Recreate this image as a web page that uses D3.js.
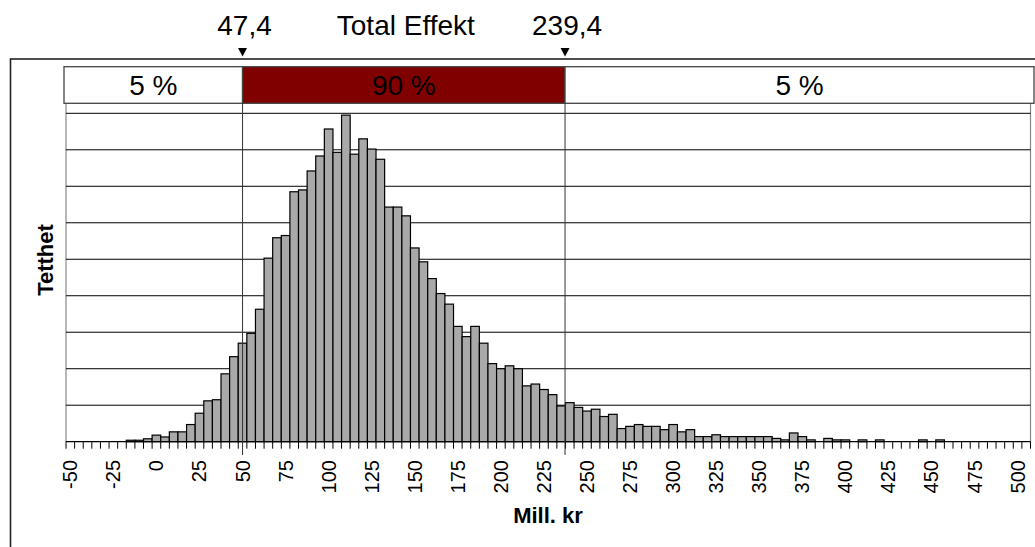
<!DOCTYPE html>
<html>
<head>
<meta charset="utf-8">
<script src="https://cdn.jsdelivr.net/npm/d3@7"></script>
<style>
  html, body { margin: 0; padding: 0; background: #fff; }
  svg { display: block; font-family: "Liberation Sans", Arial, sans-serif; }
</style>
</head>
<body>
<svg id="chart" width="1035" height="547"></svg>
<script>
// ---- data ----
const categories = [-50,-45,-40,-35,-30,-25,-20,-15,-10,-5,0,5,10,15,20,25,30,35,40,45,
  50,55,60,65,70,75,80,85,90,95,100,105,110,115,120,125,130,135,140,145,
  150,155,160,165,170,175,180,185,190,195,200,205,210,215,220,225,230,235,240,245,
  250,255,260,265,270,275,280,285,290,295,300,305,310,315,320,325,330,335,340,345,
  350,355,360,365,370,375,380,385,390,395,400,405,410,415,420,425,430,435,440,445,
  450,455,460,465,470,475,480,485,490,495,500,505];
const density = [0,0,0,0,0,0,0,0.4,0.4,0.8,1.8,1.3,2.7,2.7,4.7,7.8,11.2,11.5,18.6,23.3,
  27.0,29.7,36.3,50.3,55.9,56.5,68.5,69.0,74.2,78.3,85.7,79.3,89.5,78.8,83.0,80.2,77.4,64.3,64.3,61.9,
  53.1,49.3,44.7,40.6,37.7,31.6,28.8,31.6,27.0,21.4,20.0,20.8,20.0,15.3,15.8,14.3,12.9,9.8,10.7,9.4,
  8.4,8.9,6.9,7.5,3.6,4.2,4.7,4.2,4.2,3.3,4.7,2.7,3.3,1.4,1.4,1.9,1.4,1.4,1.4,1.4,
  1.4,1.4,0.9,0.5,2.4,1.4,0.5,0,0.9,0.5,0.5,0,0.5,0,0.5,0,0,0,0,0.5,
  0,0.5,0,0,0,0,0,0,0,0,0,0];
const tickLabels = [-50,-25,0,25,50,75,100,125,150,175,200,225,250,275,300,325,350,375,400,425,450,475,500];
const gridValues = [10,20,30,40,50,60,70,80,90];
const percentiles = [47.4, 239.4];
const percentileLabels = ["47,4", "239,4"];
const bandLabels = ["5 %", "90 %", "5 %"];
const title = "Total Effekt";
const xTitle = "Mill. kr";
const yTitle = "Tetthet";

// ---- layout ----
const svg = d3.select("#chart");
const plot = { left: 66, right: 1030.5, top: 113.3, bottom: 441.7 };
const band = { left: 64, right: 1034, top: 66.7, bottom: 103.3 };

const x = d3.scaleBand().domain(categories).range([plot.left, plot.right]).padding(0);
const y = d3.scaleLinear().domain([0, 90]).range([plot.bottom, plot.top]);
// overlay (percentile) scale used by the band on top
const xo = d3.scaleLinear().domain([-58.9, 518.6]).range([band.left, band.right]);

// outer chart border
svg.append("rect").attr("x", 10.5).attr("y", 59).attr("width", 1100).attr("height", 600)
  .attr("fill", "none").attr("stroke", "#222").attr("stroke-width", 1.6);

// plot area frame (gray)
svg.append("line").attr("x1", plot.left).attr("x2", plot.left).attr("y1", band.bottom).attr("y2", plot.bottom)
  .attr("stroke", "#888").attr("stroke-width", 1.2);
svg.append("line").attr("x1", plot.right).attr("x2", plot.right).attr("y1", band.bottom).attr("y2", plot.bottom)
  .attr("stroke", "#888").attr("stroke-width", 1.2);

// gridlines
svg.append("g").selectAll("line").data(gridValues).join("line")
  .attr("x1", plot.left).attr("x2", plot.right)
  .attr("y1", d => y(d)).attr("y2", d => y(d))
  .attr("stroke", "#000").attr("stroke-width", 1);

// bars
svg.append("g").selectAll("rect").data(categories.map((c, i) => ({ c, v: density[i] })).filter(d => d.v > 0))
  .join("rect")
  .attr("x", d => x(d.c))
  .attr("y", d => y(d.v))
  .attr("width", x.bandwidth())
  .attr("height", d => y(0) - y(d.v))
  .attr("fill", "#a9a9a9")
  .attr("stroke", "#000")
  .attr("stroke-width", 1.2);

// baseline
svg.append("line").attr("x1", plot.left).attr("x2", plot.right)
  .attr("y1", y(0)).attr("y2", y(0)).attr("stroke", "#000").attr("stroke-width", 1.2);

// tick marks between categories
const tickXs = categories.map(c => x(c)).concat([plot.right]);
svg.append("g").selectAll("line").data(tickXs).join("line")
  .attr("x1", d => d).attr("x2", d => d)
  .attr("y1", y(0)).attr("y2", y(0) + 7)
  .attr("stroke", "#000").attr("stroke-width", 1);

// tick labels
svg.append("g").selectAll("text").data(tickLabels).join("text")
  .attr("transform", d => `translate(${x(d) + x.bandwidth() / 2},460) rotate(-90)`)
  .attr("text-anchor", "end")
  .attr("dy", "0.35em")
  .attr("font-size", 20)
  .attr("fill", "#000")
  .text(d => d);

// axis titles
svg.append("text").attr("x", 548).attr("y", 523).attr("text-anchor", "middle")
  .attr("font-size", 22).attr("font-weight", "bold").text(xTitle);
svg.append("text").attr("transform", "translate(52.7,260) rotate(-90)").attr("text-anchor", "middle")
  .attr("font-size", 22).attr("font-weight", "bold").text(yTitle);

// percentile band
const edges = [xo.domain()[0], percentiles[0], percentiles[1], xo.domain()[1]];
const segs = bandLabels.map((lab, i) => ({ lab, a: edges[i], b: edges[i + 1], fill: i === 1 ? "#800000" : "#fff" }));
svg.append("g").selectAll("rect").data(segs).join("rect")
  .attr("x", d => xo(d.a)).attr("width", d => xo(d.b) - xo(d.a))
  .attr("y", band.top).attr("height", band.bottom - band.top)
  .attr("fill", d => d.fill).attr("stroke", "#444").attr("stroke-width", 1.3);
svg.append("g").selectAll("text").data(segs).join("text")
  .attr("x", d => (xo(d.a) + xo(d.b)) / 2).attr("y", 95)
  .attr("text-anchor", "middle").attr("font-size", 28).attr("fill", "#000")
  .text(d => d.lab);

// percentile lines
svg.append("g").selectAll("line").data(percentiles).join("line")
  .attr("x1", d => xo(d)).attr("x2", d => xo(d))
  .attr("y1", band.bottom).attr("y2", 455)
  .attr("stroke", "#333").attr("stroke-width", 1);

// triangles
svg.append("g").selectAll("path").data(percentiles).join("path")
  .attr("d", d => `M${xo(d) - 4.5},48 L${xo(d) + 4.5},48 L${xo(d)},56.5 Z`)
  .attr("fill", "#000");

// top labels
svg.append("g").selectAll("text").data(percentiles).join("text")
  .attr("x", d => xo(d) + 2).attr("y", 35)
  .attr("text-anchor", "middle").attr("font-size", 28).attr("fill", "#000")
  .text((d, i) => percentileLabels[i]);
svg.append("text")
  .attr("x", (xo(percentiles[0]) + xo(percentiles[1])) / 2 + 2).attr("y", 35)
  .attr("text-anchor", "middle").attr("font-size", 28).attr("fill", "#000")
  .text(title);
</script>
</body>
</html>
